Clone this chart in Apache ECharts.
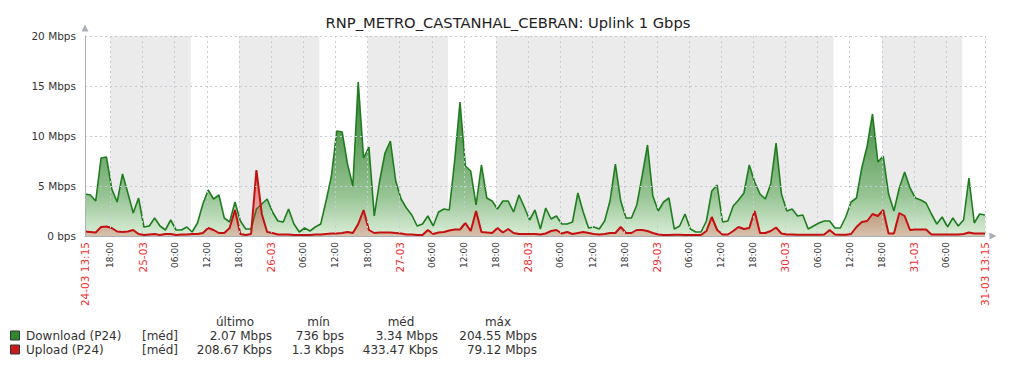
<!DOCTYPE html>
<html>
<head>
<meta charset="utf-8">
<script src="https://cdn.jsdelivr.net/npm/echarts@6/dist/echarts.min.js"></script>
<style>
html,body{margin:0;padding:0;background:#fff;}
#chart{width:1016px;height:368px;}
</style>
</head>
<body>
<div id="chart"></div>
<script>
// ---- data (hourly samples from 24-03 13:15, Mbps) ----
const titleText = 'RNP_METRO_CASTANHAL_CEBRAN: Uplink 1 Gbps';
const download = [
4.2,4.1,3.5,7.8,7.9,4.7,3.4,6.2,4.3,2.3,3.8,0.9,1.0,1.8,1.0,0.6,1.6,0.6,0.6,0.9,
0.4,1.3,3.2,4.6,3.7,4.1,1.8,1.4,3.4,1.5,0.7,0.7,2.7,3.2,3.7,2.4,1.5,1.4,2.7,1.2,
0.4,0.8,0.5,0.9,1.2,3.5,6.0,10.5,10.4,7.2,5.0,15.4,7.8,8.9,2.0,5.5,8.3,9.5,5.5,3.7,
2.8,2.1,1.0,1.2,2.0,1.0,2.4,2.7,2.6,7.5,13.4,7.0,6.5,3.1,7.1,3.8,3.5,2.7,3.5,3.5,
2.4,4.1,2.9,1.6,2.6,0.7,2.8,1.7,2.0,1.2,1.2,1.4,4.3,2.4,0.8,0.9,0.7,1.5,3.5,7.2,
3.5,1.8,1.8,3.1,6.0,9.1,4.0,2.5,3.4,3.8,0.7,1.0,2.2,0.7,0.4,0.4,1.5,4.5,5.1,1.4,
1.5,3.0,3.6,4.3,7.1,5.4,4.2,3.7,5.2,9.3,4.2,2.5,2.7,2.0,2.1,0.7,1.0,1.3,1.5,1.5,
0.8,0.8,1.9,3.4,3.8,6.8,9.0,12.2,7.4,8.0,4.2,2.5,4.8,6.4,4.8,3.8,3.6,3.3,2.2,1.2,
1.9,0.9,1.8,1.0,1.6,5.8,1.3,2.2,2.1
];
const upload = [
0.45,0.4,0.35,0.9,0.95,0.8,0.45,0.4,0.45,0.6,0.2,0.1,0.15,0.2,0.1,0.2,0.2,0.1,0.15,0.15,
0.2,0.2,0.3,0.8,0.6,0.3,0.3,0.8,2.6,0.2,0.1,0.2,6.6,2.2,0.4,0.3,0.15,0.15,0.15,0.1,
0.1,0.1,0.1,0.15,0.15,0.2,0.25,0.25,0.3,0.4,0.3,1.2,2.6,0.6,0.3,0.35,0.35,0.35,0.3,0.25,
0.15,0.15,0.1,0.1,0.6,0.2,0.35,0.4,0.55,0.65,0.65,1.3,0.5,2.5,0.4,0.35,0.3,0.8,0.35,0.7,
0.3,0.2,0.2,0.2,0.2,0.15,0.25,0.5,0.6,0.25,0.4,0.2,0.3,0.4,0.3,0.2,0.15,0.2,0.3,0.3,
0.9,0.3,0.3,0.6,0.6,0.5,0.3,0.15,0.1,0.1,0.12,0.12,0.1,0.1,0.1,0.1,0.5,1.9,0.6,0.15,
0.15,0.5,0.9,0.7,0.8,2.5,0.3,0.3,0.5,0.85,0.25,0.15,0.15,0.12,0.12,0.12,0.12,0.12,0.15,0.6,
0.15,0.12,0.12,0.2,0.9,1.4,1.5,2.2,2.0,2.6,0.25,0.25,2.3,2.0,0.6,0.65,0.65,0.65,0.15,0.15,
0.15,0.15,0.15,0.15,0.2,0.35,0.25,0.25,0.25
];
const yTicks = [0, 5, 10, 15, 20];
const yTickLabels = ['0 bps', '5 Mbps', '10 Mbps', '15 Mbps', '20 Mbps'];
const xTickHours = [0,4.75,10.75,16.75,22.75,28.75,34.75,40.75,46.75,52.75,58.75,64.75,70.75,76.75,
  82.75,88.75,94.75,100.75,106.75,112.75,118.75,124.75,130.75,136.75,142.75,148.75,154.75,160.75,168];
const xTickLabels = ['24-03 13:15','18:00','25-03','06:00','12:00','18:00','26-03','06:00','12:00','18:00',
  '27-03','06:00','12:00','18:00','28-03','06:00','12:00','18:00','29-03','06:00','12:00','18:00',
  '30-03','06:00','12:00','18:00','31-03','06:00','31-03 13:15'];
const nonWorkStart = [4.75, 28.75, 52.75, 76.75, 148.75];
const nonWorkEnd = [19.75, 43.75, 67.75, 139.75, 163.75];
const seriesNames = ['Download (P24)', 'Upload (P24)'];
const seriesFunc = ['[méd]', '[méd]'];
const statHeaders = ['último', 'mín', 'méd', 'máx'];
const statsDownload = ['2.07 Mbps', '736 bps', '3.34 Mbps', '204.55 Mbps'];
const statsUpload = ['208.67 Kbps', '1.3 Kbps', '433.47 Kbps', '79.12 Mbps'];

// ---- chart ----
const FONT = '"DejaVu Sans", sans-serif';
const chart = echarts.init(document.getElementById('chart'), null, {renderer: 'svg'});

function xLabel(v) {
  let idx = -1;
  for (let i = 0; i < xTickHours.length; i++) if (Math.abs(xTickHours[i] - v) < 0.01) idx = i;
  if (idx < 0) return '';
  const s = xTickLabels[idx];
  return s.indexOf(':') >= 0 && s.length <= 5 ? '{t|' + s + '}' : '{d|' + s + '}';
}

const statX = [272, 344, 438, 537];
const headX = [235, 318.5, 401, 498];
const rowsY = [336, 350];
const colors = ['#2f8a2f', '#cc1a1a'];
const graphics = [];
statHeaders.forEach((h, i) => graphics.push({type: 'text', x: headX[i], y: 322,
  style: {text: h, fill: '#333', font: '12px ' + FONT, textAlign: 'center', textVerticalAlign: 'middle'}}));
[statsDownload, statsUpload].forEach((row, r) => {
  graphics.push({type: 'rect', shape: {x: 10.5, y: rowsY[r] - 5, width: 9, height: 9},
    style: {fill: colors[r], stroke: '#333', lineWidth: 1}});
  graphics.push({type: 'text', x: 26, y: rowsY[r],
    style: {text: seriesNames[r], fill: '#333', font: '12px ' + FONT, textAlign: 'left', textVerticalAlign: 'middle'}});
  graphics.push({type: 'text', x: 142, y: rowsY[r],
    style: {text: seriesFunc[r], fill: '#333', font: '12px ' + FONT, textAlign: 'left', textVerticalAlign: 'middle'}});
  row.forEach((v, i) => graphics.push({type: 'text', x: statX[i], y: rowsY[r],
    style: {text: v, fill: '#333', font: '12px ' + FONT, textAlign: 'right', textVerticalAlign: 'middle'}}));
});

const option = {
  animation: false,
  backgroundColor: '#ffffff',
  textStyle: {fontFamily: FONT},
  title: {text: titleText, left: 'center', top: 10,
    textStyle: {fontFamily: FONT, fontSize: 14.7, fontWeight: 'normal', color: '#222'}},
  grid: {left: 85, right: 31, top: 36, bottom: 132, containLabel: false, outerBoundsMode: 'none'},
  xAxis: {
    type: 'value', min: 0, max: 168, z: 5,
    axisLine: {show: true, lineStyle: {color: '#a9b0b8', width: 1},
      symbol: ['none', 'triangle'], symbolSize: [7, 7], symbolOffset: [0, 8]},
    axisTick: {show: false, customValues: xTickHours},
    splitLine: {show: true, lineStyle: {color: '#c5ccd3', type: [2, 3], width: 1}},
    axisLabel: {
      customValues: xTickHours, rotate: 90, margin: 6,
      formatter: xLabel,
      rich: {
        t: {color: '#333', fontSize: 9, fontFamily: FONT},
        d: {color: '#f03030', fontSize: 10.5, fontFamily: FONT}
      }
    }
  },
  yAxis: {
    type: 'value', min: 0, max: 20, interval: 5, z: 5,
    axisLine: {show: true, lineStyle: {color: '#a9b0b8', width: 1},
      symbol: ['none', 'triangle'], symbolSize: [7, 7], symbolOffset: [0, 8]},
    axisTick: {show: false},
    splitLine: {show: true, lineStyle: {color: '#c5ccd3', type: [2, 3], width: 1}},
    axisLabel: {
      margin: 9, color: '#333', fontSize: 10.5, fontFamily: FONT,
      formatter: v => { const i = yTicks.indexOf(v); return i >= 0 ? yTickLabels[i] : ''; }
    }
  },
  series: [
    {
      name: seriesNames[0], type: 'line', showSymbol: false, smooth: false,
      data: download.map((v, i) => [i, v]),
      lineStyle: {color: '#1f7d1f', width: 1.6},
      itemStyle: {color: colors[0]},
      areaStyle: {opacity: 1, color: new echarts.graphic.LinearGradient(0, 36, 0, 236, [
        {offset: 0, color: '#226f22'},
        {offset: 0.5, color: '#5e9e5c'},
        {offset: 0.8, color: '#97c494'},
        {offset: 1, color: '#dbeed8'}
      ], true)},
      markArea: {silent: true, itemStyle: {color: '#ebebeb'},
        data: nonWorkStart.map((s, i) => [{xAxis: s}, {xAxis: nonWorkEnd[i]}])},
      z: 2
    },
    {
      name: seriesNames[1], type: 'line', showSymbol: false, smooth: false,
      data: upload.map((v, i) => [i, v]),
      lineStyle: {color: '#c41010', width: 2},
      itemStyle: {color: colors[1]},
      areaStyle: {opacity: 1, color: new echarts.graphic.LinearGradient(0, 36, 0, 236, [
        {offset: 0, color: 'rgba(220,0,0,0.95)'},
        {offset: 0.6, color: 'rgba(220,40,40,0.65)'},
        {offset: 1, color: 'rgba(205,60,40,0.25)'}
      ], true)},
      z: 3
    }
  ],
  graphic: graphics
};
chart.setOption(option);
</script>
</body>
</html>
